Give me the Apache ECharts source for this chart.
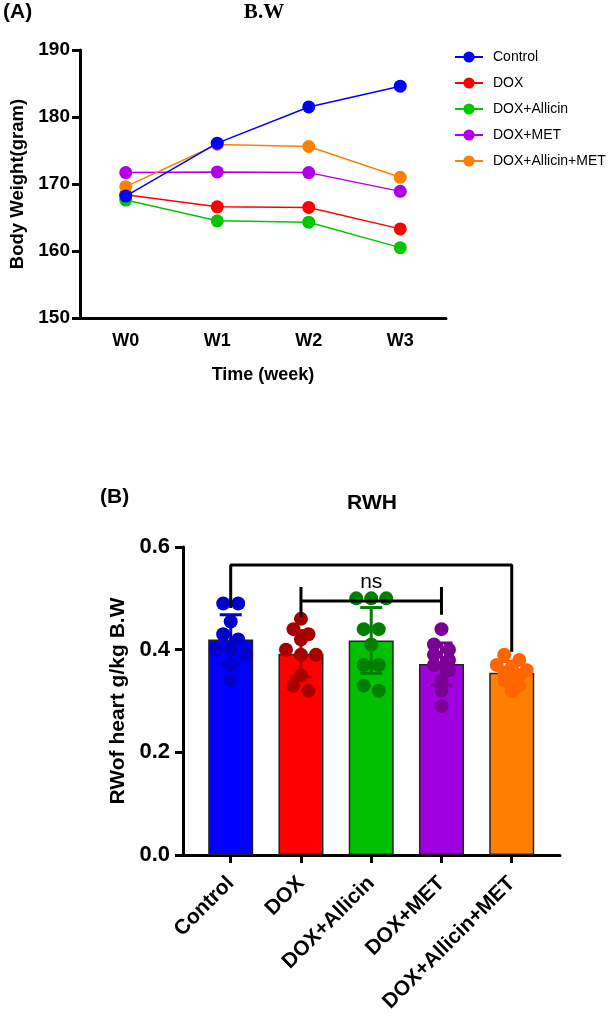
<!DOCTYPE html>
<html>
<head>
<meta charset="utf-8">
<script src="https://cdn.jsdelivr.net/npm/echarts@6/dist/echarts.min.js"></script>
<style>
html, body { margin: 0; padding: 0; background: #fff; }
#chart { width: 614px; height: 1018px; }
</style>
</head>
<body>
<div id="chart"></div>
<script>
// panel A: body weight per week
var weeks = ['W0', 'W1', 'W2', 'W3'];
var groups = ['Control', 'DOX', 'DOX+Allicin', 'DOX+MET', 'DOX+Allicin+MET'];
var bwControl = [168.2, 176.1, 181.5, 184.6];
var bwDox = [168.4, 166.6, 166.5, 163.3];
var bwAllicin = [167.6, 164.5, 164.3, 160.5];
var bwMet = [171.7, 171.8, 171.7, 168.9];
var bwAllicinMet = [169.6, 175.9, 175.6, 171.0];

// panel B: relative heart weight
var rwhMean = [0.42, 0.392, 0.418, 0.372, 0.355];
var rwhSD = [0.048, 0.045, 0.064, 0.041, 0.022];
var rwhControl = [0.49, 0.49, 0.455, 0.43, 0.42, 0.40, 0.40, 0.39, 0.37, 0.34];
var rwhDox = [0.46, 0.44, 0.43, 0.42, 0.40, 0.39, 0.39, 0.35, 0.33, 0.32];
var rwhAllicin = [0.50, 0.50, 0.50, 0.44, 0.44, 0.41, 0.37, 0.37, 0.33, 0.32];
var rwhMet = [0.44, 0.41, 0.40, 0.39, 0.38, 0.37, 0.36, 0.34, 0.32, 0.29];
var rwhAllicinMet = [0.39, 0.38, 0.37, 0.365, 0.36, 0.355, 0.35, 0.34, 0.33, 0.32];

// significance brackets [group, value]
var bracketOuter = [[0, 0.481], [0, 0.565], [4, 0.565], [4, 0.396]];
var bracketInnerLeft = [[1, 0.522], [1, 0.464]];
var bracketInnerMid = [[1, 0.495], [3, 0.495]];
var bracketInnerRight = [[3, 0.522], [3, 0.468]];
var nsLabel = [[2, 0.532]];

var lineColors = ['#0000ff', '#ff0000', '#00c800', '#b000e8', '#ff8000'];
var barColors = ['#0000ff', '#ff0000', '#00c000', '#a000e0', '#ff8000'];
var dotColors = ['#0000c8', '#a80000', '#007f00', '#7a0096', '#ff6600'];

var bwSeries = [bwControl, bwDox, bwAllicin, bwMet, bwAllicinMet];
var rwhPoints = [rwhControl, rwhDox, rwhAllicin, rwhMet, rwhAllicinMet];

var FONT = 'Liberation Sans, Arial, sans-serif';
var axisLineStyle = { color: '#000', width: 3 };
function bold(size) {
  return { color: '#000', fontWeight: 'bold', fontSize: size, fontFamily: FONT };
}

var chart = echarts.init(document.getElementById('chart'));

// row-centred scatter like GraphPad: points at about the same height share a row
var DOT_R = 7;
function swarm(api, g) {
  var pts = rwhPoints[g].map(function (v, i) { return { i: i, p: api.coord([g, v]) }; });
  pts.sort(function (a, b) { return a.p[1] - b.p[1]; });
  var rows = [];
  pts.forEach(function (pt) {
    var row = rows[rows.length - 1];
    if (row && pt.p[1] - row[0].p[1] < DOT_R) row.push(pt);
    else rows.push([pt]);
  });
  var out = [];
  var spacing = 15;
  rows.forEach(function (row) {
    var n = row.length;
    row.forEach(function (pt, k) {
      out[pt.i] = [pt.p[0] + (k - (n - 1) / 2) * spacing, pt.p[1]];
    });
  });
  return out;
}

var series = [];
bwSeries.forEach(function (d, i) {
  series.push({
    name: groups[i],
    type: 'line',
    xAxisIndex: 0,
    yAxisIndex: 0,
    data: d,
    symbol: 'circle',
    symbolSize: 13,
    color: lineColors[i],
    lineStyle: { width: 1.5 },
    z: i === 0 ? 4 : 3
  });
});

series.push({
  type: 'bar',
  xAxisIndex: 1,
  yAxisIndex: 1,
  barWidth: 45,
  z: 2,
  data: rwhMean.map(function (m, g) {
    return { value: [g, m], itemStyle: { color: barColors[g], borderColor: '#222', borderWidth: 1.5 } };
  })
});

var pointData = [];
rwhPoints.forEach(function (vals, g) {
  vals.forEach(function (v, i) { pointData.push([g, v, i]); });
});
series.push({
  type: 'custom',
  xAxisIndex: 1,
  yAxisIndex: 1,
  z: 3,
  data: pointData,
  encode: { x: 0, y: 1 },
  renderItem: function (params, api) {
    var g = api.value(0), i = api.value(2);
    var pos = swarm(api, g)[i];
    return {
      type: 'circle',
      shape: { cx: pos[0], cy: pos[1], r: DOT_R },
      style: { fill: dotColors[g] }
    };
  }
});

series.push({
  type: 'custom',
  xAxisIndex: 1,
  yAxisIndex: 1,
  z: 4,
  data: rwhMean.map(function (m, g) { return [g, m, rwhSD[g]]; }),
  encode: { x: 0, y: 1 },
  renderItem: function (params, api) {
    var g = api.value(0), m = api.value(1), s = api.value(2);
    var top = api.coord([g, m + s]);
    var bot = api.coord([g, m - s]);
    var hw = 11;
    var st = { stroke: dotColors[g], lineWidth: 3 };
    return {
      type: 'group',
      children: [
        { type: 'line', shape: { x1: top[0], y1: top[1], x2: bot[0], y2: bot[1] }, style: st },
        { type: 'line', shape: { x1: top[0] - hw, y1: top[1], x2: top[0] + hw, y2: top[1] }, style: st },
        { type: 'line', shape: { x1: bot[0] - hw, y1: bot[1], x2: bot[0] + hw, y2: bot[1] }, style: st }
      ]
    };
  }
});

[bracketOuter, bracketInnerLeft, bracketInnerMid, bracketInnerRight].forEach(function (d) {
  series.push({
    type: 'line',
    xAxisIndex: 1,
    yAxisIndex: 1,
    data: d,
    symbol: 'none',
    z: 5,
    lineStyle: { color: '#000', width: 3 },
    silent: true
  });
});

series.push({
  type: 'custom',
  xAxisIndex: 1,
  yAxisIndex: 1,
  z: 6,
  data: nsLabel,
  encode: { x: 0, y: 1 },
  silent: true,
  renderItem: function (params, api) {
    var p = api.coord([api.value(0), api.value(1)]);
    return {
      type: 'text',
      x: p[0],
      y: p[1],
      style: { text: 'ns', fill: '#000', font: '21px ' + FONT, align: 'center', verticalAlign: 'middle' }
    };
  }
});

var option = {
  animation: false,
  backgroundColor: '#fff',
  title: [
    { text: '(A)', left: 3, top: 2, padding: 0, textStyle: bold(21) },
    { text: 'B.W', left: 264, top: 2, padding: 0, textAlign: 'center', textStyle: { fontSize: 21, fontWeight: 'bold', fontFamily: 'Liberation Serif, Times New Roman, serif', color: '#000' } },
    { text: '(B)', left: 100, top: 487, padding: 0, textStyle: bold(21) },
    { text: 'RWH', left: 372, top: 493, padding: 0, textAlign: 'center', textStyle: bold(21) }
  ],
  legend: {
    data: groups,
    orient: 'vertical',
    left: 449,
    top: 45,
    itemWidth: 28,
    itemHeight: 14,
    itemGap: 12,
    textStyle: { fontSize: 14, fontFamily: FONT, color: '#000', padding: [0, 0, 0, 5] }
  },
  grid: [
    { left: 80, top: 50, width: 366, height: 268 },
    { left: 183, top: 547, width: 377, height: 308 }
  ],
  xAxis: [
    {
      type: 'category',
      gridIndex: 0,
      data: weeks,
      boundaryGap: true,
      axisLine: { lineStyle: axisLineStyle },
      axisTick: { alignWithLabel: true, length: 8, lineStyle: axisLineStyle },
      axisLabel: Object.assign({ margin: 14 }, bold(18)),
      name: 'Time (week)',
      nameLocation: 'middle',
      nameGap: 48,
      nameTextStyle: bold(18)
    },
    {
      type: 'value',
      gridIndex: 1,
      min: -0.679,
      max: 4.687,
      splitLine: { show: false },
      axisLine: { onZero: false, lineStyle: axisLineStyle },
      axisTick: { length: 8, lineStyle: axisLineStyle, customValues: [0, 1, 2, 3, 4] },
      axisLabel: Object.assign({
        margin: 25,
        rotate: 45,
        customValues: [0, 1, 2, 3, 4],
        formatter: function (v) { return groups[Math.round(v)]; }
      }, bold(21))
    }
  ],
  yAxis: [
    {
      type: 'value',
      gridIndex: 0,
      min: 150,
      max: 190,
      interval: 10,
      splitLine: { show: false },
      axisLine: { show: true, onZero: false, lineStyle: axisLineStyle },
      axisTick: { show: true, length: 8, lineStyle: axisLineStyle },
      axisLabel: Object.assign({ margin: 10 }, bold(19)),
      name: 'Body Weight(gram)',
      nameLocation: 'middle',
      nameGap: 50,
      nameTextStyle: bold(18.5)
    },
    {
      type: 'value',
      gridIndex: 1,
      min: 0,
      max: 0.6,
      interval: 0.2,
      splitLine: { show: false },
      axisLine: { show: true, onZero: false, lineStyle: axisLineStyle },
      axisTick: { show: true, length: 8, lineStyle: axisLineStyle },
      axisLabel: Object.assign({ margin: 13, formatter: function (v) { return v.toFixed(1); } }, bold(22)),
      name: 'RWof heart g/kg B.W',
      nameLocation: 'middle',
      nameGap: 45,
      nameTextStyle: bold(21)
    }
  ],
  series: series
};

chart.setOption(option);
</script>
</body>
</html>
